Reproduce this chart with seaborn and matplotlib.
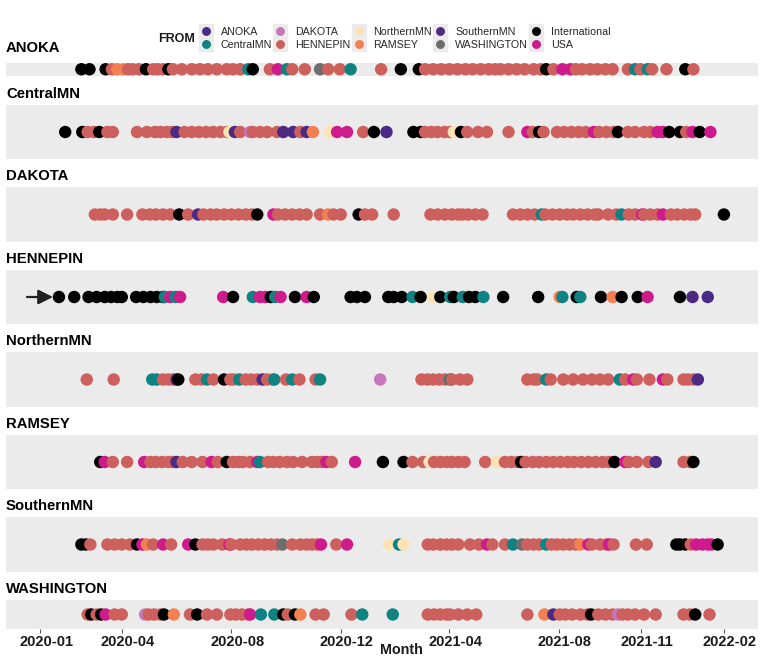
import pandas as pd
import matplotlib.pyplot as plt
import matplotlib.dates as mdates
import matplotlib.transforms as mtransforms
from matplotlib.lines import Line2D
from matplotlib.legend_handler import HandlerTuple
import seaborn as sns

# source codes -> legend names
from_names = {
    'ANO': 'ANOKA', 'CEN': 'CentralMN', 'DAK': 'DAKOTA', 'HEN': 'HENNEPIN',
    'NOR': 'NorthernMN', 'RAM': 'RAMSEY', 'SOU': 'SouthernMN',
    'WAS': 'WASHINGTON', 'INT': 'International', 'USA': 'USA',
}
from_order = list(from_names.values())
from_colors = ['#4a2a85', '#0f8282', '#c777b9', '#cd5f5c', '#fde3b3',
               '#f47f50', '#4d2a82', '#6d6d6d', '#000000', '#cf1a8b']

panels = ['ANOKA', 'CentralMN', 'DAKOTA', 'HENNEPIN', 'NorthernMN',
          'RAMSEY', 'SouthernMN', 'WASHINGTON']

anoka = [
    ('2020-02-16', 'INT'), ('2020-02-25', 'INT'), ('2020-03-14', 'INT'), ('2020-03-21', 'HEN'),
    ('2020-03-27', 'RAM'), ('2020-04-03', 'RAM'), ('2020-04-08', 'HEN'), ('2020-04-13', 'HEN'),
    ('2020-04-20', 'HEN'), ('2020-04-28', 'INT'), ('2020-05-06', 'HEN'), ('2020-05-11', 'HEN'),
    ('2020-05-17', 'HEN'), ('2020-05-23', 'INT'), ('2020-05-28', 'HEN'), ('2020-06-07', 'HEN'),
    ('2020-06-18', 'HEN'), ('2020-06-27', 'HEN'), ('2020-07-06', 'HEN'), ('2020-07-16', 'HEN'),
    ('2020-07-27', 'HEN'), ('2020-08-03', 'HEN'), ('2020-08-11', 'HEN'), ('2020-08-20', 'CEN'),
    ('2020-08-25', 'INT'), ('2020-09-13', 'HEN'), ('2020-09-22', 'USA'), ('2020-10-02', 'CEN'),
    ('2020-10-08', 'HEN'), ('2020-10-22', 'HEN'), ('2020-11-08', 'WAS'), ('2020-11-17', 'HEN'),
    ('2020-11-30', 'HEN'), ('2020-12-12', 'CEN'), ('2021-01-15', 'HEN'), ('2021-02-06', 'INT'),
    ('2021-02-26', 'INT'), ('2021-03-05', 'HEN'), ('2021-03-14', 'HEN'), ('2021-03-23', 'HEN'),
    ('2021-04-01', 'HEN'), ('2021-04-10', 'HEN'), ('2021-04-19', 'HEN'), ('2021-04-27', 'HEN'),
    ('2021-05-06', 'HEN'), ('2021-05-15', 'HEN'), ('2021-05-22', 'HEN'), ('2021-05-28', 'HEN'),
    ('2021-06-06', 'HEN'), ('2021-06-15', 'HEN'), ('2021-06-24', 'HEN'), ('2021-07-04', 'HEN'),
    ('2021-07-12', 'HEN'), ('2021-07-18', 'INT'), ('2021-07-26', 'HEN'), ('2021-08-05', 'USA'),
    ('2021-08-14', 'USA'), ('2021-08-20', 'HEN'), ('2021-08-27', 'HEN'), ('2021-09-05', 'HEN'),
    ('2021-09-13', 'HEN'), ('2021-09-22', 'HEN'), ('2021-09-30', 'HEN'), ('2021-10-17', 'HEN'),
    ('2021-10-25', 'CEN'), ('2021-10-31', 'HEN'), ('2021-11-08', 'CEN'), ('2021-11-13', 'HEN'),
    ('2021-11-29', 'HEN'), ('2021-12-20', 'INT'), ('2021-12-29', 'HEN'),
]

central = [
    ('2020-01-29', 'INT'), ('2020-02-17', 'INT'), ('2020-02-23', 'HEN'), ('2020-03-01', 'HEN'),
    ('2020-03-07', 'INT'), ('2020-03-16', 'HEN'), ('2020-03-22', 'HEN'), ('2020-04-18', 'HEN'),
    ('2020-04-29', 'HEN'), ('2020-05-08', 'HEN'), ('2020-05-14', 'HEN'), ('2020-05-21', 'HEN'),
    ('2020-05-27', 'HEN'), ('2020-06-01', 'ANO'), ('2020-06-10', 'HEN'), ('2020-06-18', 'HEN'),
    ('2020-06-26', 'HEN'), ('2020-07-04', 'HEN'), ('2020-07-12', 'HEN'), ('2020-07-20', 'HEN'),
    ('2020-07-27', 'HEN'), ('2020-07-30', 'NOR'), ('2020-08-05', 'SOU'), ('2020-08-11', 'HEN'),
    ('2020-08-22', 'DAK'), ('2020-08-25', 'HEN'), ('2020-09-02', 'HEN'), ('2020-09-10', 'HEN'),
    ('2020-09-21', 'HEN'), ('2020-09-28', 'SOU'), ('2020-10-09', 'ANO'), ('2020-10-17', 'HEN'),
    ('2020-10-24', 'SOU'), ('2020-10-31', 'RAM'), ('2020-11-19', 'NOR'), ('2020-11-27', 'USA'),
    ('2020-12-08', 'USA'), ('2020-12-26', 'HEN'), ('2021-01-07', 'INT'), ('2021-01-21', 'ANO'),
    ('2021-02-20', 'INT'), ('2021-02-28', 'INT'), ('2021-03-05', 'HEN'), ('2021-03-12', 'HEN'),
    ('2021-03-19', 'HEN'), ('2021-03-27', 'HEN'), ('2021-04-02', 'HEN'), ('2021-04-06', 'NOR'),
    ('2021-04-14', 'INT'), ('2021-04-21', 'HEN'), ('2021-05-03', 'HEN'), ('2021-05-13', 'HEN'),
    ('2021-06-06', 'HEN'), ('2021-06-27', 'USA'), ('2021-07-03', 'HEN'), ('2021-07-10', 'INT'),
    ('2021-07-15', 'HEN'), ('2021-07-30', 'HEN'), ('2021-08-07', 'HEN'), ('2021-08-15', 'HEN'),
    ('2021-08-23', 'HEN'), ('2021-08-31', 'HEN'), ('2021-09-09', 'USA'), ('2021-09-15', 'HEN'),
    ('2021-09-23', 'HEN'), ('2021-10-01', 'HEN'), ('2021-10-06', 'INT'), ('2021-10-17', 'HEN'),
    ('2021-10-25', 'HEN'), ('2021-11-04', 'HEN'), ('2021-11-11', 'HEN'), ('2021-11-19', 'USA'),
    ('2021-11-25', 'USA'), ('2021-12-02', 'INT'), ('2021-12-14', 'INT'), ('2021-12-21', 'HEN'),
    ('2021-12-28', 'USA'), ('2022-01-05', 'INT'), ('2022-01-17', 'USA'),
]

dakota = [
    ('2020-03-02', 'HEN'), ('2020-03-08', 'HEN'), ('2020-03-13', 'HEN'), ('2020-03-22', 'HEN'),
    ('2020-04-07', 'HEN'), ('2020-04-24', 'HEN'), ('2020-05-02', 'HEN'), ('2020-05-09', 'HEN'),
    ('2020-05-17', 'HEN'), ('2020-05-25', 'HEN'), ('2020-06-04', 'INT'), ('2020-06-14', 'HEN'),
    ('2020-06-25', 'SOU'), ('2020-07-01', 'HEN'), ('2020-07-09', 'HEN'), ('2020-07-16', 'HEN'),
    ('2020-07-24', 'HEN'), ('2020-08-01', 'HEN'), ('2020-08-09', 'HEN'), ('2020-08-17', 'HEN'),
    ('2020-08-24', 'HEN'), ('2020-08-30', 'INT'), ('2020-09-17', 'USA'), ('2020-09-22', 'HEN'),
    ('2020-09-30', 'HEN'), ('2020-10-08', 'HEN'), ('2020-10-16', 'HEN'), ('2020-10-24', 'HEN'),
    ('2020-11-08', 'HEN'), ('2020-11-17', 'RAM'), ('2020-11-23', 'HEN'), ('2020-12-01', 'HEN'),
    ('2020-12-21', 'INT'), ('2020-12-28', 'HEN'), ('2021-01-05', 'HEN'), ('2021-01-29', 'HEN'),
    ('2021-03-11', 'HEN'), ('2021-03-19', 'HEN'), ('2021-03-27', 'HEN'), ('2021-04-04', 'HEN'),
    ('2021-04-11', 'HEN'), ('2021-04-16', 'HEN'), ('2021-04-22', 'HEN'), ('2021-04-30', 'HEN'),
    ('2021-05-08', 'HEN'), ('2021-06-11', 'HEN'), ('2021-06-19', 'HEN'), ('2021-06-27', 'HEN'),
    ('2021-07-05', 'HEN'), ('2021-07-13', 'CEN'), ('2021-07-17', 'HEN'), ('2021-07-25', 'HEN'),
    ('2021-08-02', 'HEN'), ('2021-08-10', 'HEN'), ('2021-08-17', 'HEN'), ('2021-08-25', 'HEN'),
    ('2021-09-02', 'HEN'), ('2021-09-10', 'HEN'), ('2021-09-14', 'HEN'), ('2021-09-25', 'HEN'),
    ('2021-10-04', 'HEN'), ('2021-10-10', 'CEN'), ('2021-10-18', 'HEN'), ('2021-10-25', 'HEN'),
    ('2021-11-02', 'USA'), ('2021-11-04', 'HEN'), ('2021-11-11', 'HEN'), ('2021-11-19', 'HEN'),
    ('2021-11-25', 'USA'), ('2021-12-04', 'HEN'), ('2021-12-11', 'HEN'), ('2021-12-19', 'HEN'),
    ('2021-12-26', 'HEN'), ('2021-12-31', 'HEN'), ('2022-02-01', 'INT'),
]

hennepin = [
    ('2020-01-22', 'INT'), ('2020-02-08', 'INT'), ('2020-02-24', 'INT'), ('2020-03-04', 'INT'),
    ('2020-03-13', 'INT'), ('2020-03-20', 'INT'), ('2020-03-27', 'INT'), ('2020-04-01', 'INT'),
    ('2020-04-17', 'INT'), ('2020-04-25', 'INT'), ('2020-05-03', 'INT'), ('2020-05-10', 'INT'),
    ('2020-05-17', 'INT'), ('2020-05-19', 'CEN'), ('2020-05-25', 'USA'), ('2020-05-31', 'CEN'),
    ('2020-06-05', 'USA'), ('2020-07-23', 'USA'), ('2020-08-03', 'INT'), ('2020-08-25', 'CEN'),
    ('2020-09-02', 'USA'), ('2020-09-08', 'USA'), ('2020-09-14', 'INT'), ('2020-09-19', 'CEN'),
    ('2020-09-25', 'USA'), ('2020-10-11', 'INT'), ('2020-10-24', 'USA'), ('2020-11-01', 'INT'),
    ('2020-12-12', 'INT'), ('2020-12-19', 'INT'), ('2020-12-28', 'INT'), ('2021-01-23', 'INT'),
    ('2021-01-29', 'INT'), ('2021-02-07', 'INT'), ('2021-02-19', 'CEN'), ('2021-02-28', 'INT'),
    ('2021-03-14', 'NOR'), ('2021-03-22', 'INT'), ('2021-04-02', 'CEN'), ('2021-04-06', 'INT'),
    ('2021-04-16', 'CEN'), ('2021-04-23', 'INT'), ('2021-04-30', 'INT'), ('2021-05-09', 'CEN'),
    ('2021-05-31', 'INT'), ('2021-07-09', 'INT'), ('2021-08-02', 'RAM'), ('2021-08-05', 'CEN'),
    ('2021-08-21', 'INT'), ('2021-08-25', 'CEN'), ('2021-09-17', 'INT'), ('2021-09-30', 'RAM'),
    ('2021-10-10', 'INT'), ('2021-10-28', 'INT'), ('2021-11-08', 'USA'), ('2021-12-14', 'INT'),
    ('2021-12-28', 'SOU'), ('2022-01-14', 'ANO'),
]

northern = [
    ('2020-02-22', 'HEN'), ('2020-03-23', 'HEN'), ('2020-05-05', 'CEN'), ('2020-05-10', 'CEN'),
    ('2020-05-17', 'HEN'), ('2020-05-23', 'HEN'), ('2020-05-28', 'HEN'), ('2020-06-01', 'SOU'),
    ('2020-06-03', 'INT'), ('2020-06-22', 'HEN'), ('2020-06-29', 'HEN'), ('2020-07-05', 'CEN'),
    ('2020-07-12', 'HEN'), ('2020-07-24', 'INT'), ('2020-07-31', 'HEN'), ('2020-08-04', 'HEN'),
    ('2020-08-10', 'CEN'), ('2020-08-17', 'HEN'), ('2020-08-23', 'HEN'), ('2020-08-30', 'HEN'),
    ('2020-09-05', 'ANO'), ('2020-09-10', 'HEN'), ('2020-09-16', 'HEN'), ('2020-09-18', 'CEN'),
    ('2020-10-01', 'HEN'), ('2020-10-08', 'CEN'), ('2020-10-16', 'HEN'), ('2020-11-03', 'HEN'),
    ('2020-11-08', 'CEN'), ('2021-01-14', 'DAK'), ('2021-03-01', 'HEN'), ('2021-03-08', 'HEN'),
    ('2021-03-14', 'HEN'), ('2021-03-21', 'HEN'), ('2021-03-27', 'HEN'), ('2021-04-02', 'CEN'),
    ('2021-04-04', 'HEN'), ('2021-04-13', 'HEN'), ('2021-04-21', 'HEN'), ('2021-06-27', 'HEN'),
    ('2021-07-04', 'HEN'), ('2021-07-08', 'HEN'), ('2021-07-18', 'CEN'), ('2021-07-23', 'HEN'),
    ('2021-08-06', 'HEN'), ('2021-08-17', 'HEN'), ('2021-08-28', 'HEN'), ('2021-09-07', 'HEN'),
    ('2021-09-16', 'HEN'), ('2021-09-25', 'HEN'), ('2021-10-08', 'CEN'), ('2021-10-14', 'HEN'),
    ('2021-10-23', 'USA'), ('2021-10-27', 'HEN'), ('2021-11-10', 'HEN'), ('2021-11-25', 'USA'),
    ('2021-11-30', 'HEN'), ('2021-12-18', 'HEN'), ('2021-12-23', 'HEN'), ('2021-12-29', 'HEN'),
    ('2022-01-03', 'ANO'),
]

ramsey = [
    ('2020-03-08', 'INT'), ('2020-03-13', 'USA'), ('2020-03-22', 'HEN'), ('2020-04-07', 'HEN'),
    ('2020-04-26', 'USA'), ('2020-05-03', 'HEN'), ('2020-05-09', 'HEN'), ('2020-05-16', 'HEN'),
    ('2020-05-23', 'HEN'), ('2020-05-28', 'HEN'), ('2020-06-01', 'SOU'), ('2020-06-08', 'HEN'),
    ('2020-06-18', 'HEN'), ('2020-06-30', 'HEN'), ('2020-07-10', 'USA'), ('2020-07-17', 'HEN'),
    ('2020-07-27', 'INT'), ('2020-08-03', 'HEN'), ('2020-08-09', 'HEN'), ('2020-08-14', 'HEN'),
    ('2020-08-22', 'HEN'), ('2020-08-30', 'USA'), ('2020-09-02', 'CEN'), ('2020-09-11', 'HEN'),
    ('2020-09-17', 'HEN'), ('2020-09-24', 'HEN'), ('2020-10-02', 'HEN'), ('2020-10-09', 'HEN'),
    ('2020-10-19', 'HEN'), ('2020-10-30', 'HEN'), ('2020-11-05', 'HEN'), ('2020-11-10', 'HEN'),
    ('2020-11-15', 'USA'), ('2020-11-21', 'HEN'), ('2020-12-17', 'USA'), ('2021-01-17', 'INT'),
    ('2021-02-09', 'INT'), ('2021-02-19', 'HEN'), ('2021-03-03', 'HEN'), ('2021-03-10', 'NOR'),
    ('2021-03-15', 'HEN'), ('2021-03-22', 'HEN'), ('2021-03-29', 'HEN'), ('2021-04-04', 'HEN'),
    ('2021-04-11', 'HEN'), ('2021-04-18', 'HEN'), ('2021-05-11', 'HEN'), ('2021-05-24', 'NOR'),
    ('2021-06-02', 'HEN'), ('2021-06-09', 'HEN'), ('2021-06-16', 'HEN'), ('2021-06-20', 'INT'),
    ('2021-06-25', 'HEN'), ('2021-07-03', 'HEN'), ('2021-07-10', 'HEN'), ('2021-07-18', 'HEN'),
    ('2021-07-26', 'HEN'), ('2021-08-03', 'HEN'), ('2021-08-11', 'HEN'), ('2021-08-18', 'HEN'),
    ('2021-08-26', 'HEN'), ('2021-09-03', 'HEN'), ('2021-09-11', 'HEN'), ('2021-09-19', 'HEN'),
    ('2021-09-26', 'HEN'), ('2021-10-02', 'INT'), ('2021-10-14', 'USA'), ('2021-10-18', 'HEN'),
    ('2021-10-27', 'HEN'), ('2021-11-09', 'HEN'), ('2021-11-17', 'SOU'), ('2021-12-18', 'HEN'),
    ('2021-12-25', 'HEN'), ('2021-12-29', 'INT'),
]

southern = [
    ('2020-02-16', 'INT'), ('2020-02-21', 'INT'), ('2020-02-26', 'HEN'), ('2020-03-16', 'HEN'),
    ('2020-03-24', 'HEN'), ('2020-04-01', 'HEN'), ('2020-04-10', 'HEN'), ('2020-04-18', 'INT'),
    ('2020-04-24', 'USA'), ('2020-04-29', 'RAM'), ('2020-05-06', 'HEN'), ('2020-05-17', 'USA'),
    ('2020-05-26', 'HEN'), ('2020-06-14', 'USA'), ('2020-06-22', 'INT'), ('2020-06-30', 'HEN'),
    ('2020-07-06', 'HEN'), ('2020-07-12', 'HEN'), ('2020-07-22', 'HEN'), ('2020-07-30', 'USA'),
    ('2020-08-01', 'HEN'), ('2020-08-11', 'HEN'), ('2020-08-18', 'HEN'), ('2020-08-24', 'HEN'),
    ('2020-08-31', 'HEN'), ('2020-09-07', 'HEN'), ('2020-09-14', 'HEN'), ('2020-09-21', 'HEN'),
    ('2020-09-27', 'WAS'), ('2020-10-08', 'HEN'), ('2020-10-17', 'HEN'), ('2020-10-24', 'HEN'),
    ('2020-10-30', 'HEN'), ('2020-11-05', 'HEN'), ('2020-11-09', 'USA'), ('2020-11-26', 'HEN'),
    ('2020-12-08', 'USA'), ('2021-01-24', 'NOR'), ('2021-02-04', 'CEN'), ('2021-02-09', 'NOR'),
    ('2021-03-08', 'HEN'), ('2021-03-14', 'HEN'), ('2021-03-22', 'HEN'), ('2021-03-29', 'HEN'),
    ('2021-04-04', 'HEN'), ('2021-04-11', 'HEN'), ('2021-04-24', 'HEN'), ('2021-05-04', 'HEN'),
    ('2021-05-13', 'USA'), ('2021-05-19', 'HEN'), ('2021-06-02', 'HEN'), ('2021-06-11', 'CEN'),
    ('2021-06-21', 'WAS'), ('2021-06-27', 'HEN'), ('2021-07-04', 'HEN'), ('2021-07-10', 'HEN'),
    ('2021-07-18', 'CEN'), ('2021-07-24', 'HEN'), ('2021-07-30', 'HEN'), ('2021-08-06', 'HEN'),
    ('2021-08-13', 'HEN'), ('2021-08-20', 'HEN'), ('2021-08-25', 'RAM'), ('2021-09-03', 'USA'),
    ('2021-09-07', 'HEN'), ('2021-09-16', 'HEN'), ('2021-09-23', 'HEN'), ('2021-09-26', 'USA'),
    ('2021-10-01', 'HEN'), ('2021-10-26', 'HEN'), ('2021-11-07', 'HEN'), ('2021-12-10', 'INT'),
    ('2021-12-14', 'INT'), ('2021-12-20', 'INT'), ('2021-12-26', 'HEN'), ('2022-01-01', 'USA'),
    ('2022-01-08', 'USA'), ('2022-01-14', 'USA'), ('2022-01-18', 'USA'), ('2022-01-25', 'INT'),
]

washington = [
    ('2020-02-23', 'HEN'), ('2020-02-27', 'INT'), ('2020-03-04', 'HEN'), ('2020-03-09', 'INT'),
    ('2020-03-14', 'USA'), ('2020-03-24', 'HEN'), ('2020-04-01', 'HEN'), ('2020-04-27', 'DAK'),
    ('2020-05-01', 'HEN'), ('2020-05-07', 'HEN'), ('2020-05-14', 'HEN'), ('2020-05-18', 'INT'),
    ('2020-05-29', 'RAM'), ('2020-06-16', 'HEN'), ('2020-06-24', 'INT'), ('2020-07-05', 'HEN'),
    ('2020-07-16', 'HEN'), ('2020-07-31', 'HEN'), ('2020-08-06', 'HEN'), ('2020-08-13', 'HEN'),
    ('2020-08-20', 'HEN'), ('2020-08-22', 'USA'), ('2020-09-03', 'CEN'), ('2020-09-18', 'CEN'),
    ('2020-09-28', 'INT'), ('2020-10-03', 'HEN'), ('2020-10-11', 'INT'), ('2020-10-17', 'RAM'),
    ('2020-11-03', 'HEN'), ('2020-11-12', 'HEN'), ('2020-12-13', 'HEN'), ('2020-12-25', 'CEN'),
    ('2021-01-28', 'CEN'), ('2021-03-08', 'HEN'), ('2021-03-15', 'HEN'), ('2021-03-22', 'HEN'),
    ('2021-03-29', 'HEN'), ('2021-04-02', 'HEN'), ('2021-04-11', 'HEN'), ('2021-04-21', 'HEN'),
    ('2021-05-01', 'HEN'), ('2021-06-27', 'HEN'), ('2021-07-16', 'RAM'), ('2021-07-26', 'SOU'),
    ('2021-08-02', 'HEN'), ('2021-08-08', 'HEN'), ('2021-08-16', 'HEN'), ('2021-08-25', 'HEN'),
    ('2021-09-02', 'HEN'), ('2021-09-06', 'INT'), ('2021-09-14', 'HEN'), ('2021-09-22', 'HEN'),
    ('2021-09-30', 'HEN'), ('2021-10-06', 'DAK'), ('2021-10-11', 'HEN'), ('2021-10-17', 'HEN'),
    ('2021-10-25', 'HEN'), ('2021-11-04', 'HEN'), ('2021-11-17', 'HEN'), ('2021-12-18', 'HEN'),
    ('2021-12-25', 'HEN'), ('2021-12-31', 'INT'), ('2022-01-16', 'HEN'),
]

tick_dates = ['2020-01-01', '2020-04-01', '2020-08-01', '2020-12-01',
              '2021-04-01', '2021-08-01', '2021-11-01', '2022-02-01']
x_range = ['2019-11-24', '2022-03-11']

# build one long table
rows = []
for name, pts in zip(panels, [anoka, central, dakota, hennepin, northern,
                              ramsey, southern, washington]):
    for d, code in pts:
        rows.append({'TO': name, 'date': pd.Timestamp(d), 'FROM': from_names[code], 'y': 0})
df = pd.DataFrame(rows)
palette = dict(zip(from_order, from_colors))

sns.set_theme(style='white')
plt.rcParams['font.family'] = ['Liberation Sans', 'DejaVu Sans']

W, H = 762, 656
fig = plt.figure(figsize=(W / 100, H / 100), dpi=100)

# panel boxes in pixels (top, bottom) and label gap
tops = [62.5, 105, 187, 270, 352, 435, 517, 600]
bottoms = [76, 159, 242, 324, 407, 489, 572, 629]
gaps = [10, 7, 7, 7, 7, 7, 7, 7]
left, right = 6, 758

axes = []
for i, name in enumerate(panels):
    ax = fig.add_axes([left / W, 1 - bottoms[i] / H, (right - left) / W,
                       (bottoms[i] - tops[i]) / H])
    ax.set_facecolor('#ebebeb')
    sub = df[df['TO'] == name]
    sns.scatterplot(data=sub, x='date', y='y', hue='FROM', hue_order=from_order,
                    palette=palette, s=80, linewidth=0, alpha=1, legend=False, ax=ax)
    ax.set_xlim(pd.Timestamp(x_range[0]), pd.Timestamp(x_range[1]))
    ax.set_ylim(-1, 1)
    ax.set_yticks([])
    ax.set_ylabel('')
    ax.set_xlabel('')
    for sp in ax.spines.values():
        sp.set_visible(False)
    if i < len(panels) - 1:
        ax.set_xticks([])
    fig.text(left / W, 1 - (tops[i] - gaps[i]) / H, name, ha='left', va='baseline',
             fontsize=10.7, fontweight='bold', color='black')
    axes.append(ax)

# bottom axis ticks
ax = axes[-1]
ax.set_xticks([pd.Timestamp(t) for t in tick_dates])
ax.xaxis.set_major_formatter(mdates.DateFormatter('%Y-%m'))
ax.tick_params(axis='x', length=3, width=0.8, color='#555555', pad=1.5,
               labelsize=10.5, bottom=True)
for lab in ax.get_xticklabels():
    lab.set_fontweight('bold')
    lab.set_color('#1a1a1a')
offset = mtransforms.ScaledTranslation(6 / 100, 0, fig.dpi_scale_trans)
for tick in ax.xaxis.get_major_ticks():
    tick.label1.set_transform(tick.label1.get_transform() + offset)

fig.text(401 / W, 1 - 650 / H, 'Month', ha='center', va='center',
         fontsize=10.3, fontweight='bold', color='#1a1a1a')

# arrow pointing at the first HENNEPIN case
first = df[df['TO'] == 'HENNEPIN']['date'].min()
axes[3].annotate('', xy=(first, 0), xytext=(-23, 0), textcoords='offset points',
                 arrowprops=dict(arrowstyle='-|>', color='#222222', lw=1.6,
                                 mutation_scale=22, shrinkA=0, shrinkB=4.3))

# legend: grey key square with the coloured dot on top
handles = []
for c in from_colors:
    key = Line2D([], [], marker='s', ms=10.5, color='#ebebeb', ls='')
    dot = Line2D([], [], marker='o', ms=5.4, color=c, ls='')
    handles.append((key, dot))
fig.legend(handles, from_order, loc='center left',
           bbox_to_anchor=(198.5 / W, 1 - 38.5 / H), ncol=5, frameon=False,
           fontsize=7.7, handlelength=1.4, handletextpad=0.7, columnspacing=0.05,
           labelspacing=0.28, borderpad=0, borderaxespad=0,
           handler_map={tuple: HandlerTuple(ndivide=1, pad=0)})
fig.text(158 / W, 1 - 39 / H, 'FROM', ha='left', va='center', fontsize=9,
         fontweight='bold', color='#1a1a1a')

fig.savefig('out.png', dpi=100)
